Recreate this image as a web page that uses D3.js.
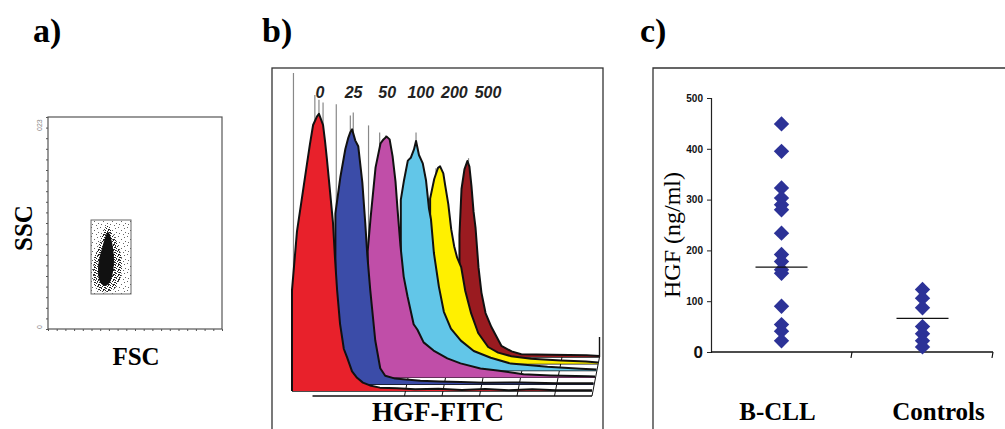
<!DOCTYPE html>
<html>
<head>
<meta charset="utf-8">
<script src="https://cdn.jsdelivr.net/npm/d3@7"></script>
<style>
    body { margin: 0; background: #fff; }
    svg { display: block; }
</style>
</head>
<body>
<div id="figure"></div>
<script>
// ---------- data ----------
// a) FSC / SSC dot plot: gate and density contours, in channels (0..1023)
const gateFsc = [253, 488];
const gateSsc = [169, 526];
const haloContour = [[353, 497], [388, 449], [423, 381], [435, 309], [423, 236], [382, 188],
    [323, 179], [276, 208], [265, 275], [276, 352], [306, 420], [329, 478]];
const coreContour = [[353, 468], [370, 439], [382, 391], [388, 333], [382, 275], [365, 227],
    [335, 208], [306, 227], [294, 275], [300, 333], [318, 391], [335, 439]];
const scatterTickLabels = ["0", "023"];

// b) HGF-FITC histograms, [channel, count]
const doseLabels = ["0", "25", "50", "100", "200", "500"];
const histColors = ["#e8212b", "#3b4ca8", "#c04ea8", "#62c6e8", "#fff000", "#9a1b20"];
const hist0 = [[0, 0], [0, 36], [17, 57], [34, 69], [51, 81], [61, 88], [72, 95], [85, 98], [92, 99], [99, 97],
    [106, 95], [113, 89], [119, 83], [130, 71], [140, 60], [147, 47], [154, 36], [164, 24], [177, 15], [188, 12],
    [205, 7], [222, 4.7], [242, 3], [266, 2], [300, 1.2], [358, 1], [420, 0.6], [500, 0.8], [580, 0.4],
    [660, 0.7], [740, 0.3], [820, 0.6], [900, 0.3], [1024, 0.3]];
const hist25 = [[143, 0], [143, 61], [160, 74], [177, 84], [187, 88], [194, 90], [200, 91], [211, 87], [221, 85],
    [235, 72], [245, 57.5], [252, 46], [262, 33.6], [279, 15.7], [296, 5.7], [313, 3], [347, 2], [433, 1.2],
    [500, 1.0], [570, 0.8], [650, 0.5], [775, 0.6], [900, 0.3], [1024, 0.3]];
const hist50 = [[248, 0], [248, 45], [258, 57], [275, 75], [292, 83.6], [302, 85], [313, 86], [323, 85], [333, 79],
    [343, 70], [350, 60], [360, 47], [371, 36], [384, 29], [405, 19], [418, 17], [439, 12.5], [473, 9.6],
    [520, 6.8], [565, 5], [633, 3.2], [691, 2.5], [780, 1.1], [872, 0.7], [1000, 0.4], [1024, 0.3]];
const hist100 = [[356, 0], [356, 61], [367, 68], [380, 75], [390, 76], [401, 79], [408, 82], [418, 77], [431, 74],
    [442, 68], [452, 58], [459, 54], [469, 42], [486, 30], [503, 21], [527, 15], [561, 10.7], [605, 7],
    [663, 4.6], [731, 2.5], [857, 1.4], [970, 0.7], [1024, 0.4]];
const hist200 = [[451, 0], [451, 59], [465, 66], [478, 70], [485, 70.5], [496, 68], [502, 64], [513, 57], [523, 48],
    [533, 42], [543, 38], [557, 34.5], [571, 26], [591, 18], [615, 11], [649, 6], [683, 4], [728, 2.7],
    [796, 1.8], [898, 1.2], [983, 0.8], [1024, 0.5]];
const hist500 = [[546, 0], [546, 43.6], [553, 60], [563, 67], [573, 70], [580, 68], [587, 61], [594, 52], [601, 46],
    [611, 32], [621, 23], [635, 15.7], [655, 10.7], [689, 4], [724, 2], [757, 1], [860, 0.8], [980, 0.6], [1024, 0.4]];
// grey spikes above the fills (axis line + peak channels)
const histSpikes = [
    [[5, 113.6], [78, 105.7], [92, 104], [106, 103]],
    [[146, 100], [194, 96], [204, 97]],
    [[251, 90], [289, 87.5], [309, 86.4]],
    [[408, 85]],
    [[471, 69.8], [488, 69]],
    [[577, 71]]
];
const floorChannels = [384, 512, 640, 768, 896, 1024];

// c) serum HGF
const groups = ["B-CLL", "Controls"];
const hgfBcll = [449, 395, 323, 303, 290, 280, 234, 192, 178, 162, 155, 90, 54, 41, 22];
const hgfControls = [123, 106, 87, 50, 36, 22, 10];
const hgfMedians = [167, 66];
const hgfTicks = [0, 100, 200, 300, 400, 500];

// ---------- drawing ----------
const SERIF = "'Liberation Serif', 'Times New Roman', serif";
const SANS = "'Liberation Sans', Arial, sans-serif";

const svg = d3.select("#figure").append("svg")
    .attr("width", 1005)
    .attr("height", 429);

svg.append("rect").attr("width", 1005).attr("height", 429).attr("fill", "#fff");

// speckle patterns for the dot plot
const defs = svg.append("defs");
function speckle(id, size, dots, color) {
    const p = defs.append("pattern")
        .attr("id", id)
        .attr("patternUnits", "userSpaceOnUse")
        .attr("width", size).attr("height", size);
    dots.forEach(d => p.append("rect")
        .attr("x", d[0]).attr("y", d[1]).attr("width", 1).attr("height", 1).attr("fill", color));
}
speckle("sparse", 9, [[1, 2], [6, 0], [4, 5], [8, 7], [2, 8], [7, 3]], "#666");
speckle("dense", 5, [[0, 0], [2, 1], [4, 2], [1, 3], [3, 4], [0, 2], [3, 0], [4, 4]], "#222");

// panel letters
[["a)", 33], ["b)", 262], ["c)", 640]].forEach(([t, x]) => {
    svg.append("text")
        .attr("x", x).attr("y", 42)
        .attr("font-family", SERIF)
        .attr("font-weight", "bold")
        .attr("font-size", "34px")
        .text(t);
});

// ===== a) dot plot =====
const fscScale = d3.scaleLinear().domain([0, 1023]).range([48, 222]);
const sscScale = d3.scaleLinear().domain([0, 1023]).range([329, 117]);
const gA = svg.append("g");

gA.append("rect")
    .attr("x", 48).attr("y", 117)
    .attr("width", 174).attr("height", 212)
    .attr("fill", "none")
    .attr("stroke", "#555")
    .attr("stroke-width", 1.2);

const tickVals = d3.range(0, 1024, 1023 / 20);
gA.append("g")
    .attr("transform", "translate(48,0)")
    .call(d3.axisLeft(sscScale).tickValues(tickVals).tickSize(2).tickFormat(""))
    .call(g => g.select(".domain").remove())
    .selectAll("line").attr("stroke", "#555");
gA.append("g")
    .attr("transform", "translate(0,329)")
    .call(d3.axisBottom(fscScale).tickValues(tickVals).tickSize(2).tickFormat(""))
    .call(g => g.select(".domain").remove())
    .selectAll("line").attr("stroke", "#555");

[0, 1023].forEach((v, i) => {
    gA.append("text")
        .attr("transform", `translate(42, ${i === 0 ? sscScale(v) : sscScale(v) + 14}) rotate(-90)`)
        .attr("font-family", SANS)
        .attr("font-size", "7px")
        .attr("fill", "#888")
        .text(scatterTickLabels[i]);
});

gA.append("rect")
    .attr("x", fscScale(gateFsc[0]))
    .attr("y", sscScale(gateSsc[1]))
    .attr("width", fscScale(gateFsc[1]) - fscScale(gateFsc[0]))
    .attr("height", sscScale(gateSsc[0]) - sscScale(gateSsc[1]))
    .attr("fill", "url(#sparse)")
    .attr("stroke", "#666")
    .attr("stroke-width", 1);

const contourLine = d3.line()
    .x(d => fscScale(d[0]))
    .y(d => sscScale(d[1]))
    .curve(d3.curveCardinalClosed);
gA.append("path").attr("d", contourLine(haloContour)).attr("fill", "url(#dense)");
gA.append("path").attr("d", contourLine(coreContour)).attr("fill", "#111");

gA.append("text")
    .attr("transform", "translate(32,228) rotate(-90)")
    .attr("text-anchor", "middle")
    .attr("font-family", SERIF)
    .attr("font-weight", "bold")
    .attr("font-size", "25px")
    .text("SSC");
gA.append("text")
    .attr("x", 136).attr("y", 365)
    .attr("text-anchor", "middle")
    .attr("font-family", SERIF)
    .attr("font-weight", "bold")
    .attr("font-size", "25px")
    .text("FSC");

// ===== b) histogram overlay =====
const gB = svg.append("g");
gB.append("rect")
    .attr("x", 272).attr("y", 68)
    .attr("width", 331).attr("height", 400)
    .attr("fill", "none")
    .attr("stroke", "#333")
    .attr("stroke-width", 1.3);

const xHist = d3.scaleLinear().domain([0, 1024]).range([292, 592]);
const hHist = d3.scaleLinear().domain([0, 100]).range([0, 280]);
const rowDx = i => 1.5 * i;
const rowBase = i => 391 - 6.8 * i;
const histSeries = [hist0, hist25, hist50, hist100, hist200, hist500];

// floor: row lines and receding grid lines
const floor = gB.append("g").attr("stroke", "#111").attr("fill", "none");
histSeries.forEach((s, i) => {
    floor.append("line")
        .attr("x1", xHist(s[0][0]) + rowDx(i)).attr("x2", xHist(1024) + rowDx(i))
        .attr("y1", rowBase(i)).attr("y2", rowBase(i))
        .attr("stroke-width", 1.4);
});
floor.append("line")
    .attr("x1", xHist(70)).attr("x2", xHist(1024))
    .attr("y1", rowBase(0) + 5).attr("y2", rowBase(0) + 5)
    .attr("stroke-width", 1.4);
floorChannels.forEach(c => {
    floor.append("line")
        .attr("x1", xHist(c)).attr("y1", rowBase(0) + 5)
        .attr("x2", xHist(c) + rowDx(5)).attr("y2", rowBase(5))
        .attr("stroke-width", 1);
});
floor.append("line")
    .attr("x1", xHist(1024) + rowDx(5)).attr("x2", xHist(1024) + rowDx(5))
    .attr("y1", rowBase(5)).attr("y2", rowBase(5) - 20)
    .attr("stroke-width", 1.4);

// histograms, back to front
for (let i = histSeries.length - 1; i >= 0; i--) {
    const dx = rowDx(i), base = rowBase(i);
    const spikes = gB.append("g").attr("stroke", "#888").attr("stroke-width", 1.2);
    histSpikes[i].forEach(d => {
        spikes.append("line")
            .attr("x1", xHist(d[0]) + dx).attr("x2", xHist(d[0]) + dx)
            .attr("y1", base).attr("y2", base - hHist(d[1]));
    });
    const area = d3.area()
        .x(d => xHist(d[0]) + dx)
        .y0(base)
        .y1(d => base - hHist(d[1]));
    const line = d3.line()
        .x(d => xHist(d[0]) + dx)
        .y(d => base - hHist(d[1]));
    gB.append("path")
        .attr("d", area(histSeries[i]))
        .attr("fill", histColors[i]);
    gB.append("path")
        .attr("d", line(histSeries[i]))
        .attr("fill", "none")
        .attr("stroke", "#111")
        .attr("stroke-width", 2)
        .attr("stroke-linejoin", "round");
}

const doseScale = d3.scalePoint().domain(doseLabels).range([320, 488]);
gB.selectAll(".dose")
    .data(doseLabels)
    .enter().append("text")
    .attr("class", "dose")
    .attr("x", d => doseScale(d))
    .attr("y", 98)
    .attr("text-anchor", "middle")
    .attr("font-family", SANS)
    .attr("font-weight", "bold")
    .attr("font-style", "italic")
    .attr("font-size", "16px")
    .attr("fill", "#222")
    .text(d => d);

gB.append("text")
    .attr("x", 438).attr("y", 421)
    .attr("text-anchor", "middle")
    .attr("font-family", SERIF)
    .attr("font-weight", "bold")
    .attr("font-size", "27px")
    .text("HGF-FITC");

// ===== c) serum HGF =====
const gC = svg.append("g");
gC.append("path")
    .attr("d", "M653,440V68H1010")
    .attr("fill", "none")
    .attr("stroke", "#333")
    .attr("stroke-width", 1.3);

const xC = d3.scaleBand().domain(groups).range([711, 993]);
const yC = d3.scaleLinear().domain([0, 500]).range([352, 98]);

const yAxisC = gC.append("g")
    .attr("transform", "translate(711,0)")
    .call(d3.axisLeft(yC).tickValues(hgfTicks).tickSize(4).tickPadding(4));
yAxisC.select(".domain").attr("stroke", "#222").attr("stroke-width", 1.2);
yAxisC.selectAll("line").attr("stroke", "#222");
yAxisC.selectAll("text")
    .attr("font-family", SANS)
    .attr("font-weight", "900")
    .attr("font-size", d => d === 0 ? "17px" : "10px")
    .attr("fill", "#111");

gC.append("line")
    .attr("x1", xC.range()[0]).attr("x2", xC.range()[1])
    .attr("y1", yC(0)).attr("y2", yC(0))
    .attr("stroke", "#111").attr("stroke-width", 1.4);
groups.forEach(g => {
    const xe = xC(g) + xC.bandwidth();
    gC.append("line")
        .attr("x1", xe).attr("x2", xe - 1)
        .attr("y1", yC(0)).attr("y2", yC(0) + 6)
        .attr("stroke", "#111").attr("stroke-width", 1.2);
});

const diamond = d3.symbol(d3.symbolSquare, 118);
[hgfBcll, hgfControls].forEach((vals, gi) => {
    const cx = xC(groups[gi]) + xC.bandwidth() / 2;
    gC.selectAll(null)
        .data(vals)
        .enter().append("path")
        .attr("d", diamond)
        .attr("transform", d => `translate(${cx},${yC(d)}) rotate(45)`)
        .attr("fill", "#2c3297");
    gC.append("line")
        .attr("x1", cx - 26).attr("x2", cx + 26)
        .attr("y1", yC(hgfMedians[gi])).attr("y2", yC(hgfMedians[gi]))
        .attr("stroke", "#111").attr("stroke-width", 1.2);
});

const labelNudge = [-4, 16];
groups.forEach((g, i) => {
    gC.append("text")
        .attr("x", xC(g) + xC.bandwidth() / 2 + labelNudge[i])
        .attr("y", 420)
        .attr("text-anchor", "middle")
        .attr("font-family", SERIF)
        .attr("font-weight", "bold")
        .attr("font-size", "25px")
        .text(g);
});

gC.append("text")
    .attr("transform", "translate(680,235) rotate(-90)")
    .attr("text-anchor", "middle")
    .attr("font-family", SERIF)
    .attr("font-size", "24px")
    .text("HGF (ng/ml)");
</script>
</body>
</html>
